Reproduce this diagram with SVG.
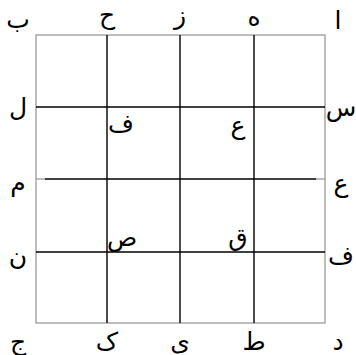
<svg xmlns="http://www.w3.org/2000/svg" width="356" height="355" viewBox="0 0 356 355">
<style>
.t{font-family:"DejaVu Sans","Noto Sans",sans-serif;font-size:25px;fill:#000;text-anchor:middle}
.g{fill:none;stroke:#000;stroke-width:1.4}
.b{fill:none;stroke:#9a9a9a;stroke-width:1.3}
</style>
<rect width="356" height="355" fill="#ffffff"/>
<g id="connectors">
<rect class="b" x="36" y="35" width="289" height="288"/>
<line class="b" x1="36" y1="179" x2="45" y2="179"/>
<line class="b" x1="316" y1="179" x2="325" y2="179"/>
<line class="g" x1="107" y1="35" x2="107" y2="323"/>
<line class="g" x1="180" y1="35" x2="180" y2="323"/>
<line class="g" x1="254" y1="35" x2="254" y2="323"/>
<line class="g" x1="36" y1="107" x2="325" y2="107"/>
<line class="g" x1="45" y1="179" x2="316" y2="179"/>
<line class="g" x1="36" y1="252" x2="325" y2="252"/>
</g>
<g id="top">
<text class="t" x="18" y="28">ب</text>
<text class="t" x="107" y="24">ح</text>
<text class="t" x="180" y="24">ز</text>
<text class="t" x="254" y="26">ه</text>
<text class="t" x="338" y="29">ا</text>
</g>
<g id="left">
<text class="t" x="18" y="116">ل</text>
<text class="t" x="18" y="191">م</text>
<text class="t" x="18" y="265">ن</text>
</g>
<g id="right">
<text class="t" x="341" y="116">س</text>
<text class="t" x="341" y="192">ع</text>
<text class="t" x="341" y="264">ف</text>
</g>
<g id="bottom">
<text class="t" x="18" y="350">ج</text>
<text class="t" x="107" y="350">ک</text>
<text class="t" x="180" y="350">ی</text>
<text class="t" x="254" y="350">ط</text>
<text class="t" x="338" y="350">د</text>
</g>
<g id="inner">
<text class="t" x="121" y="132">ف</text>
<text class="t" x="238" y="134">ع</text>
<text class="t" x="122" y="246">ص</text>
<text class="t" x="238" y="246">ق</text>
</g>
</svg>
